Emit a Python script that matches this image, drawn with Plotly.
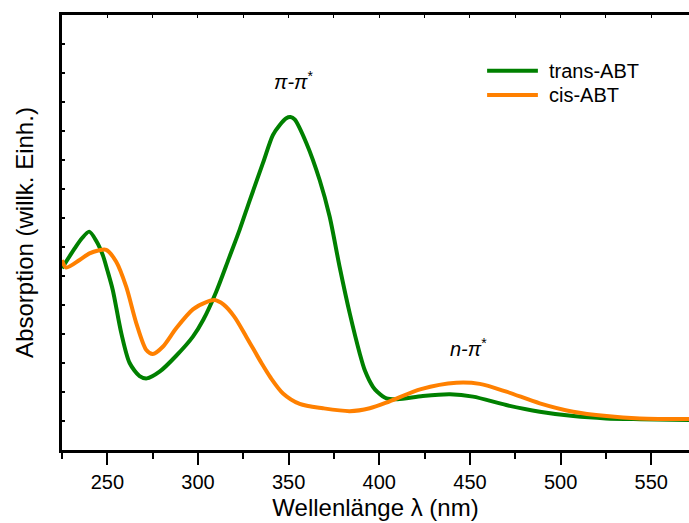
import plotly.graph_objects as go

# Wavelength (nm) and absorption (arbitrary units)
trans_wl = [225, 232, 236, 240, 244, 247.5, 250, 253, 257.7, 262.3, 267.8, 271.8, 278.8,
            288, 297.2, 303, 310, 317, 323, 328.5, 335.8, 341.3, 345, 348.7, 351, 353.3,
            359.8, 367.1, 372.6, 378.1, 383.7, 389.2, 392, 396.5, 399, 403.9, 410, 424,
            439, 451.7, 470, 488.5, 507, 525, 544, 571]
trans_abs = [6.27, 6.95, 7.3, 7.53, 7.2, 6.72, 6.2, 5.52, 4.03, 3.0, 2.55, 2.47, 2.7,
             3.25, 3.91, 4.5, 5.45, 6.6, 7.6, 8.6, 9.89, 10.86, 11.2, 11.44, 11.48, 11.4,
             10.58, 9.31, 8.05, 6.32, 4.71, 3.33, 2.75, 2.18, 2.0, 1.78, 1.75, 1.86,
             1.92, 1.84, 1.55, 1.32, 1.17, 1.09, 1.06, 1.03]

cis_wl = [225, 227.3, 234.7, 240.2, 245, 249.4, 254.9, 260.4, 266, 271.5, 275.1, 280.6,
          288, 297.2, 304.6, 309, 314, 320, 326.7, 335, 340, 346.9, 356.1, 368.9, 383.7,
          394.7, 405.7, 423, 442.5, 455.4, 470.1, 488.5, 506.9, 525.3, 543.7, 571]
cis_abs = [6.55, 6.29, 6.55, 6.78, 6.88, 6.9, 6.49, 5.63, 4.37, 3.45, 3.31, 3.56,
           4.2, 4.85, 5.1, 5.17, 5.02, 4.6, 3.9, 3.0, 2.5, 1.95, 1.59, 1.44, 1.34,
           1.44, 1.68, 2.1, 2.32, 2.28, 2.01, 1.61, 1.32, 1.17, 1.09, 1.07]

series_names = ["trans-ABT", "cis-ABT"]
series_colors = ["#008000", "#FF8000"]

x_ticks = [250, 300, 350, 400, 450, 500, 550]
x_range = [225, 570.8]
y_range = [0, 15]

FONT = "Liberation Sans, Arial, sans-serif"

fig = go.Figure()
for name, color, xs, ys in zip(series_names, series_colors,
                               [trans_wl, cis_wl], [trans_abs, cis_abs]):
    fig.add_trace(go.Scatter(x=xs, y=ys, mode="lines", name=name, showlegend=False,
                             line=dict(color=color, width=4, shape="spline", smoothing=0.8)))

fig.update_layout(
    width=689, height=523,
    margin=dict(l=62, r=0, t=15, b=73),
    paper_bgcolor="white", plot_bgcolor="white",
    font=dict(family=FONT, size=20, color="black"),
    showlegend=False,
    xaxis=dict(range=x_range, tickmode="array", tickvals=x_ticks,
               ticks="outside", ticklen=12, tickwidth=2, tickcolor="black",
               minor=dict(dtick=25, tick0=225, ticks="outside", ticklen=6, tickwidth=2,
                          tickcolor="black", showgrid=False),
               showline=True, linecolor="black", linewidth=2.5,
               showgrid=False, zeroline=False,
               tickfont=dict(size=20),
               title=dict(text="Wellenlänge λ (nm)", font=dict(size=24), standoff=8)),
    yaxis=dict(range=y_range, tickmode="linear", tick0=0, dtick=1,
               ticks="inside", ticklen=3, tickwidth=1.5, tickcolor="black",
               showticklabels=False,
               showline=True, linecolor="black", linewidth=2.5,
               showgrid=False, zeroline=False,
               title=dict(text="Absorption (willk. Einh.)", font=dict(size=24), standoff=19)),
    xaxis2=dict(range=x_range, overlaying="x", side="top", matches="x",
                tickmode="linear", tick0=225, dtick=25, ticks="inside", ticklen=3,
                tickwidth=1, tickcolor="black", showticklabels=False,
                showline=True, linecolor="black", linewidth=2.5, showgrid=False,
                zeroline=False),
)

# invisible trace to anchor the top axis
fig.add_trace(go.Scatter(x=[x_range[0]], y=[y_range[0]], xaxis="x2", mode="markers",
                         marker=dict(opacity=0), showlegend=False, hoverinfo="skip"))

# legend (drawn manually for exact spacing)
legend_y = [0.872, 0.816]
for name, color, ly in zip(series_names, series_colors, legend_y):
    fig.add_shape(type="line", xref="paper", yref="paper", x0=0.678, x1=0.759,
                  y0=ly, y1=ly, line=dict(color=color, width=4))
    fig.add_annotation(x=0.773, y=ly, xref="paper", yref="paper", showarrow=False,
                       xanchor="left", yanchor="middle", text=name,
                       font=dict(size=20, family=FONT))

fig.add_annotation(x=352.5, y=12.75, xref="x", yref="y", showarrow=False,
                   text="<i>π-π</i><sup>*</sup>", font=dict(size=20, family=FONT))
fig.add_annotation(x=449.3, y=3.55, xref="x", yref="y", showarrow=False,
                   text="<i>n-π</i><sup>*</sup>", font=dict(size=20, family=FONT))

fig.write_html("out.html", config={"displayModeBar": False},
               post_script="document.body.style.margin='0px';")
